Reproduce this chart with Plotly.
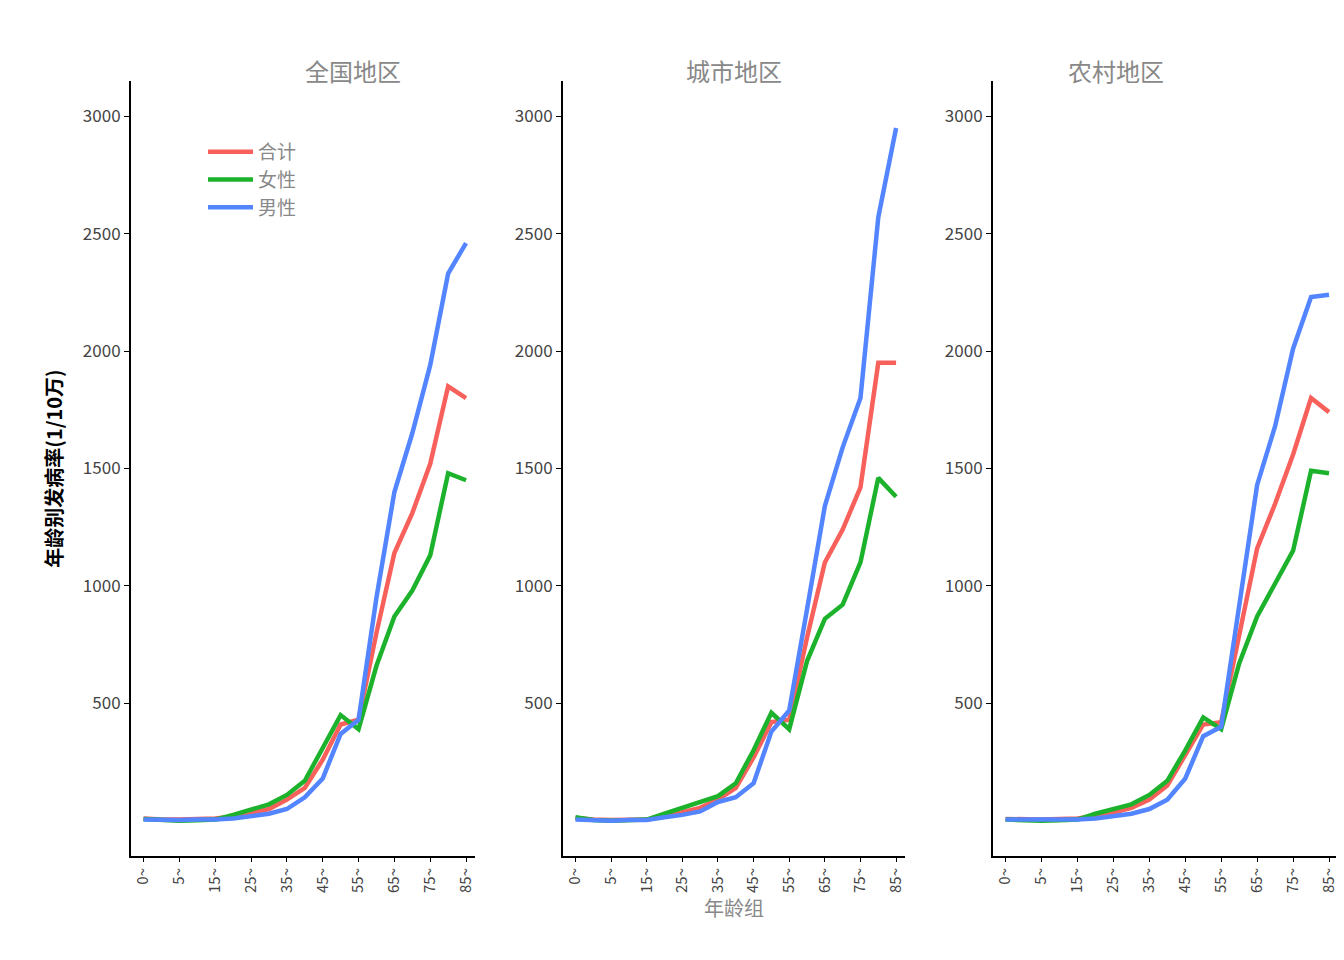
import plotly.graph_objects as go
from plotly.subplots import make_subplots

ages = ["0~","1~","5~","10~","15~","20~","25~","30~","35~","40~","45~","50~","55~","60~","65~","70~","75~","80~","85~"]
panels = ["全国地区", "城市地区", "农村地区"]
series_names = ["合计", "女性", "男性"]
colors = ["#F8605B", "#1CB22C", "#5285FF"]

p1_total = [10,5,5,8,10,18,35,50,90,140,260,410,430,800,1140,1310,1520,1850,1800]
p1_female = [8,2,0,2,5,25,50,70,110,170,310,450,390,660,870,980,1130,1480,1450]
p1_male = [5,3,3,5,5,10,20,30,50,100,180,370,430,950,1400,1650,1940,2330,2460]

p2_total = [12,5,3,5,5,18,35,55,90,140,270,420,430,780,1100,1240,1420,1950,1950]
p2_female = [15,3,0,2,5,30,55,75,105,160,300,460,390,680,860,920,1100,1460,1380]
p2_male = [5,3,0,3,3,15,25,40,80,100,160,380,470,900,1340,1590,1800,2570,2950]

p3_total = [8,5,5,8,10,20,35,55,90,150,280,410,420,790,1160,1350,1560,1800,1740]
p3_female = [5,2,0,2,5,30,50,70,110,170,300,440,390,670,870,1010,1150,1490,1480]
p3_male = [5,5,5,5,5,10,20,30,50,90,180,360,400,930,1430,1680,2010,2230,2240]

data = [[p1_total, p1_female, p1_male], [p2_total, p2_female, p2_male], [p3_total, p3_female, p3_male]]

W, H = 1344, 960
xdoms = [(123, 467), (555, 897), (985, 1330)]
ydom = (848, 73)

fig = make_subplots(rows=1, cols=3)
for c, pdata in enumerate(data):
    for s, vals in enumerate(pdata):
        fig.add_trace(go.Scatter(x=ages, y=vals, mode="lines", name=series_names[s],
                                 line=dict(color=colors[s], width=4.5),
                                 showlegend=(c == 0)), row=1, col=c+1)
    fig.update_xaxes(row=1, col=c+1, tickangle=-90, showline=True, linecolor="black", linewidth=2,
                     ticks="outside", tickcolor="black", ticklen=4, showgrid=False,
                     tickfont=dict(size=15, color="#444"), range=[-0.7, 18.5],
                     domain=[xdoms[c][0]/W, xdoms[c][1]/W])
    fig.update_yaxes(row=1, col=c+1, range=[-150, 3150], tickvals=[500,1000,1500,2000,2500,3000],
                     showline=True, linecolor="black", linewidth=2, ticks="outside", tickcolor="black",
                     ticklen=5, showgrid=False, zeroline=False, tickfont=dict(size=17, color="#444"),
                     domain=[1-ydom[0]/H, 1-ydom[1]/H])
    fig.add_annotation(text=panels[c], x=(xdoms[c][0]+xdoms[c][1])/2/W, y=1-43/H,
                       xref="paper", yref="paper", showarrow=False,
                       font=dict(size=24, color="#888"))

fig.update_xaxes(title_text="年龄组", title_font=dict(size=20, color="#888"), title_standoff=8, row=1, col=2)
fig.update_yaxes(title_text="<b>年龄别发病率(1/10万)</b>", title_font=dict(size=20, color="black"), row=1, col=1)

fig.update_layout(
    width=W, height=H, plot_bgcolor="white", paper_bgcolor="white",
    font=dict(family="Noto Sans CJK SC"),
    margin=dict(l=0, r=0, t=0, b=0),
    legend=dict(x=195/W, y=1-125/H, bgcolor="rgba(0,0,0,0)", font=dict(size=19, color="#888"),
                itemwidth=45, tracegroupgap=14),
)
fig.write_html("out.html")
